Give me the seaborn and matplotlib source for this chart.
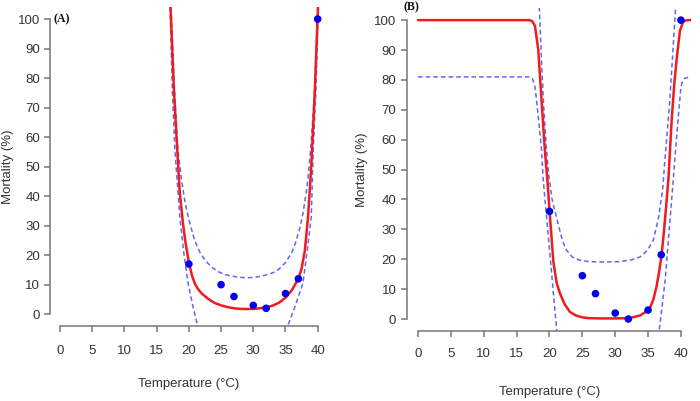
import matplotlib
matplotlib.use("Agg")
import matplotlib.pyplot as plt
import seaborn as sns

# observed mortality at each rearing temperature
temps = [20, 25, 27, 30, 32, 35, 37, 40]
mort_a = [17, 10, 6, 3, 2, 7, 12, 100]
mort_b = [36, 14.5, 8.5, 2, 0, 3, 21.5, 100]

# panel A fitted curve and confidence band
fit_a_t = [17.16, 17.45, 17.7, 18.2, 18.6, 19.1, 19.5, 20, 20.5, 21, 21.5, 22, 23, 24, 25,
           26, 27, 28, 29, 30, 31, 32, 33, 34, 35, 36, 37, 37.5, 38, 38.5, 39, 39.5, 40.05]
fit_a_m = [104, 88, 75, 55.5, 41, 30.5, 24, 17.5, 13, 10, 8.3, 7, 5.2, 3.8, 3.0,
           2.4, 2.0, 1.8, 1.75, 1.8, 2.0, 2.3, 2.9, 3.9, 5.6, 8.2, 12, 15.5, 21.5, 33, 50, 73, 104]
upper_a_t = [17.22, 17.8, 18.3, 18.9, 19.4, 20, 20.9, 21.7, 22.5, 23.5, 24.5, 25.5, 26.5, 27.5,
             28.5, 29.5, 30.5, 31.5, 32.5, 33.3, 34, 35, 36, 36.6, 37.2, 37.7, 38.2, 38.5,
             38.9, 39.5, 40.0]
upper_a_m = [104, 75, 55.6, 45, 38, 32, 25, 21, 18.3, 16, 14.5, 13.5, 13, 12.6,
             12.4, 12.4, 12.6, 13, 13.6, 14.3, 15.3, 17.5, 21, 24.5, 29, 34, 41, 46,
             55.6, 75, 104]
lower_a_left_t = [17.08, 17.45, 17.83, 18.6, 19.2, 19.9, 20.7, 21.4, 21.6]
lower_a_left_m = [104, 75, 55.6, 33, 21, 10.2, 2, -4.3, -6]
lower_a_right_t = [35.2, 35.4, 36.5, 37.7, 38.4, 39.0, 39.3, 39.7, 40.1]
lower_a_right_m = [-6, -3.7, 2.8, 10.4, 22, 33, 55.6, 75, 104]

# panel B fitted curve and confidence band
fit_b_t = [0, 17.0, 17.4, 17.8, 18.3, 18.8, 19.3, 19.7, 20.0, 20.6, 21.1, 21.6, 22.3, 23.1, 24,
           25.1, 26, 27.7, 30, 32, 32.7, 33.8, 34.5, 35.3, 35.8, 36.3, 36.7, 37.06, 37.4, 37.8,
           38.1, 38.6, 39.0, 39.35, 39.85, 40.3, 40.6, 41, 41.6]
fit_b_m = [100, 100, 99.6, 98, 90, 73, 56.5, 46, 36.5, 19, 12, 8.6, 5, 2.4, 1.2,
           0.5, 0.3, 0.2, 0.2, 0.3, 0.6, 1.2, 2.2, 3.8, 6.5, 11, 16, 21.5, 29, 39,
           47, 67, 79, 87, 96.5, 99.3, 99.8, 100, 100]
upper_b_t = [18.45, 18.8, 19.1, 19.5, 19.9, 20.4, 21.3, 22.0, 22.6, 23.5, 24.6, 26, 27.7, 29,
             30.7, 32.5, 33.8, 34.9, 35.8, 36.6, 37.2, 37.7, 38.3, 39.2]
upper_b_m = [104.4, 86, 72, 58, 48, 40, 32, 26, 23, 20.7, 19.7, 19.2, 19.1, 19.1,
             19.2, 19.8, 20.8, 23, 26.4, 34, 43, 57, 73, 104.4]
lower_b_left_t = [0, 17.0, 17.4, 17.8, 18.3, 18.8, 19.05, 19.5, 20.3, 21.1, 21.2]
lower_b_left_m = [81, 81, 80.5, 77.7, 67.7, 56.5, 46.5, 35.5, 16, -3.7, -6]
lower_b_right_t = [36.6, 36.7, 37.6, 38.7, 39.2, 39.6, 39.85, 40.0, 40.3, 40.6, 41.6]
lower_b_right_m = [-6, -3.7, 13, 43, 57, 67.7, 74, 77.7, 80, 80.6, 81]

x_ticks = list(range(0, 41, 5))
y_ticks = list(range(0, 101, 10))

sns.set_theme(style="white")
plt.rcParams['font.family'] = ['Liberation Sans', 'DejaVu Sans']

RED = "#ee1c1c"
BLUE = "#0000ee"
DASH = "#6464f0"
AXIS = "#777777"
TEXT = "#333333"

fig = plt.figure(figsize=(7, 4.01), dpi=100)
ax_a = fig.add_axes([0.071, 0.187, 0.3976, 0.795])
ax_b = fig.add_axes([0.5821, 0.1746, 0.4057, 0.805])


def draw_panel(ax, fit_t, fit_m, bands, pts, letter, letter_xy, xpad, ypad, ylab_x, xlab_y):
    for bt, bm in bands:
        sns.lineplot(x=bt, y=bm, ax=ax, color=DASH, lw=1.1, linestyle=(0, (3, 2)),
                     estimator=None, sort=False)
    sns.lineplot(x=fit_t, y=fit_m, ax=ax, color=RED, lw=1.8, estimator=None, sort=False)
    sns.scatterplot(x=temps, y=pts, ax=ax, color=BLUE, s=30, edgecolor="none", zorder=3)

    ax.set_xlim(-1.6, 41.6)
    ax.set_ylim(-4, 104)
    ax.set_xticks(x_ticks)
    ax.set_yticks(y_ticks)
    sns.despine(ax=ax)
    ax.spines['left'].set_bounds(0, 100)
    ax.spines['bottom'].set_bounds(0, 40)
    for s in ('left', 'bottom'):
        ax.spines[s].set_color(AXIS)
        ax.spines[s].set_linewidth(1.1)
    ax.tick_params(axis='both', bottom=True, left=True, direction='out', length=4.5,
                   width=1.1, color=AXIS, labelsize=9.5, labelcolor=TEXT)
    ax.tick_params(axis='x', pad=xpad)
    ax.tick_params(axis='y', pad=ypad)

    ax.set_xlabel("Temperature (°C)", fontsize=9.5, color=TEXT)
    ax.xaxis.label.set_va("center")
    ax.xaxis.set_label_coords(0.5, xlab_y)
    ax.set_ylabel("Mortality (%)", fontsize=9.5, color=TEXT)
    ax.yaxis.label.set_va("center")
    ax.yaxis.set_label_coords(ylab_x, 0.5)

    ax.text(letter_xy[0], letter_xy[1], letter, transform=ax.transAxes,
            fontfamily="Liberation Serif", fontweight="bold", fontsize=8.5,
            ha="center", va="center", color="#111111")


draw_panel(ax_a, fit_a_t, fit_a_m,
           [(upper_a_t, upper_a_m), (lower_a_left_t, lower_a_left_m),
            (lower_a_right_t, lower_a_right_m)],
           mort_a, "(A)", (0.044, 0.963), 9.5, 2.5, -0.150, -0.182)
draw_panel(ax_b, fit_b_t, fit_b_m,
           [(upper_b_t, upper_b_m), (lower_b_left_t, lower_b_left_m),
            (lower_b_right_t, lower_b_right_m)],
           mort_b, "(B)", (0.015, 1.004), 7.5, 3.5, -0.160, -0.189)

fig.savefig("out.png", dpi=100)
